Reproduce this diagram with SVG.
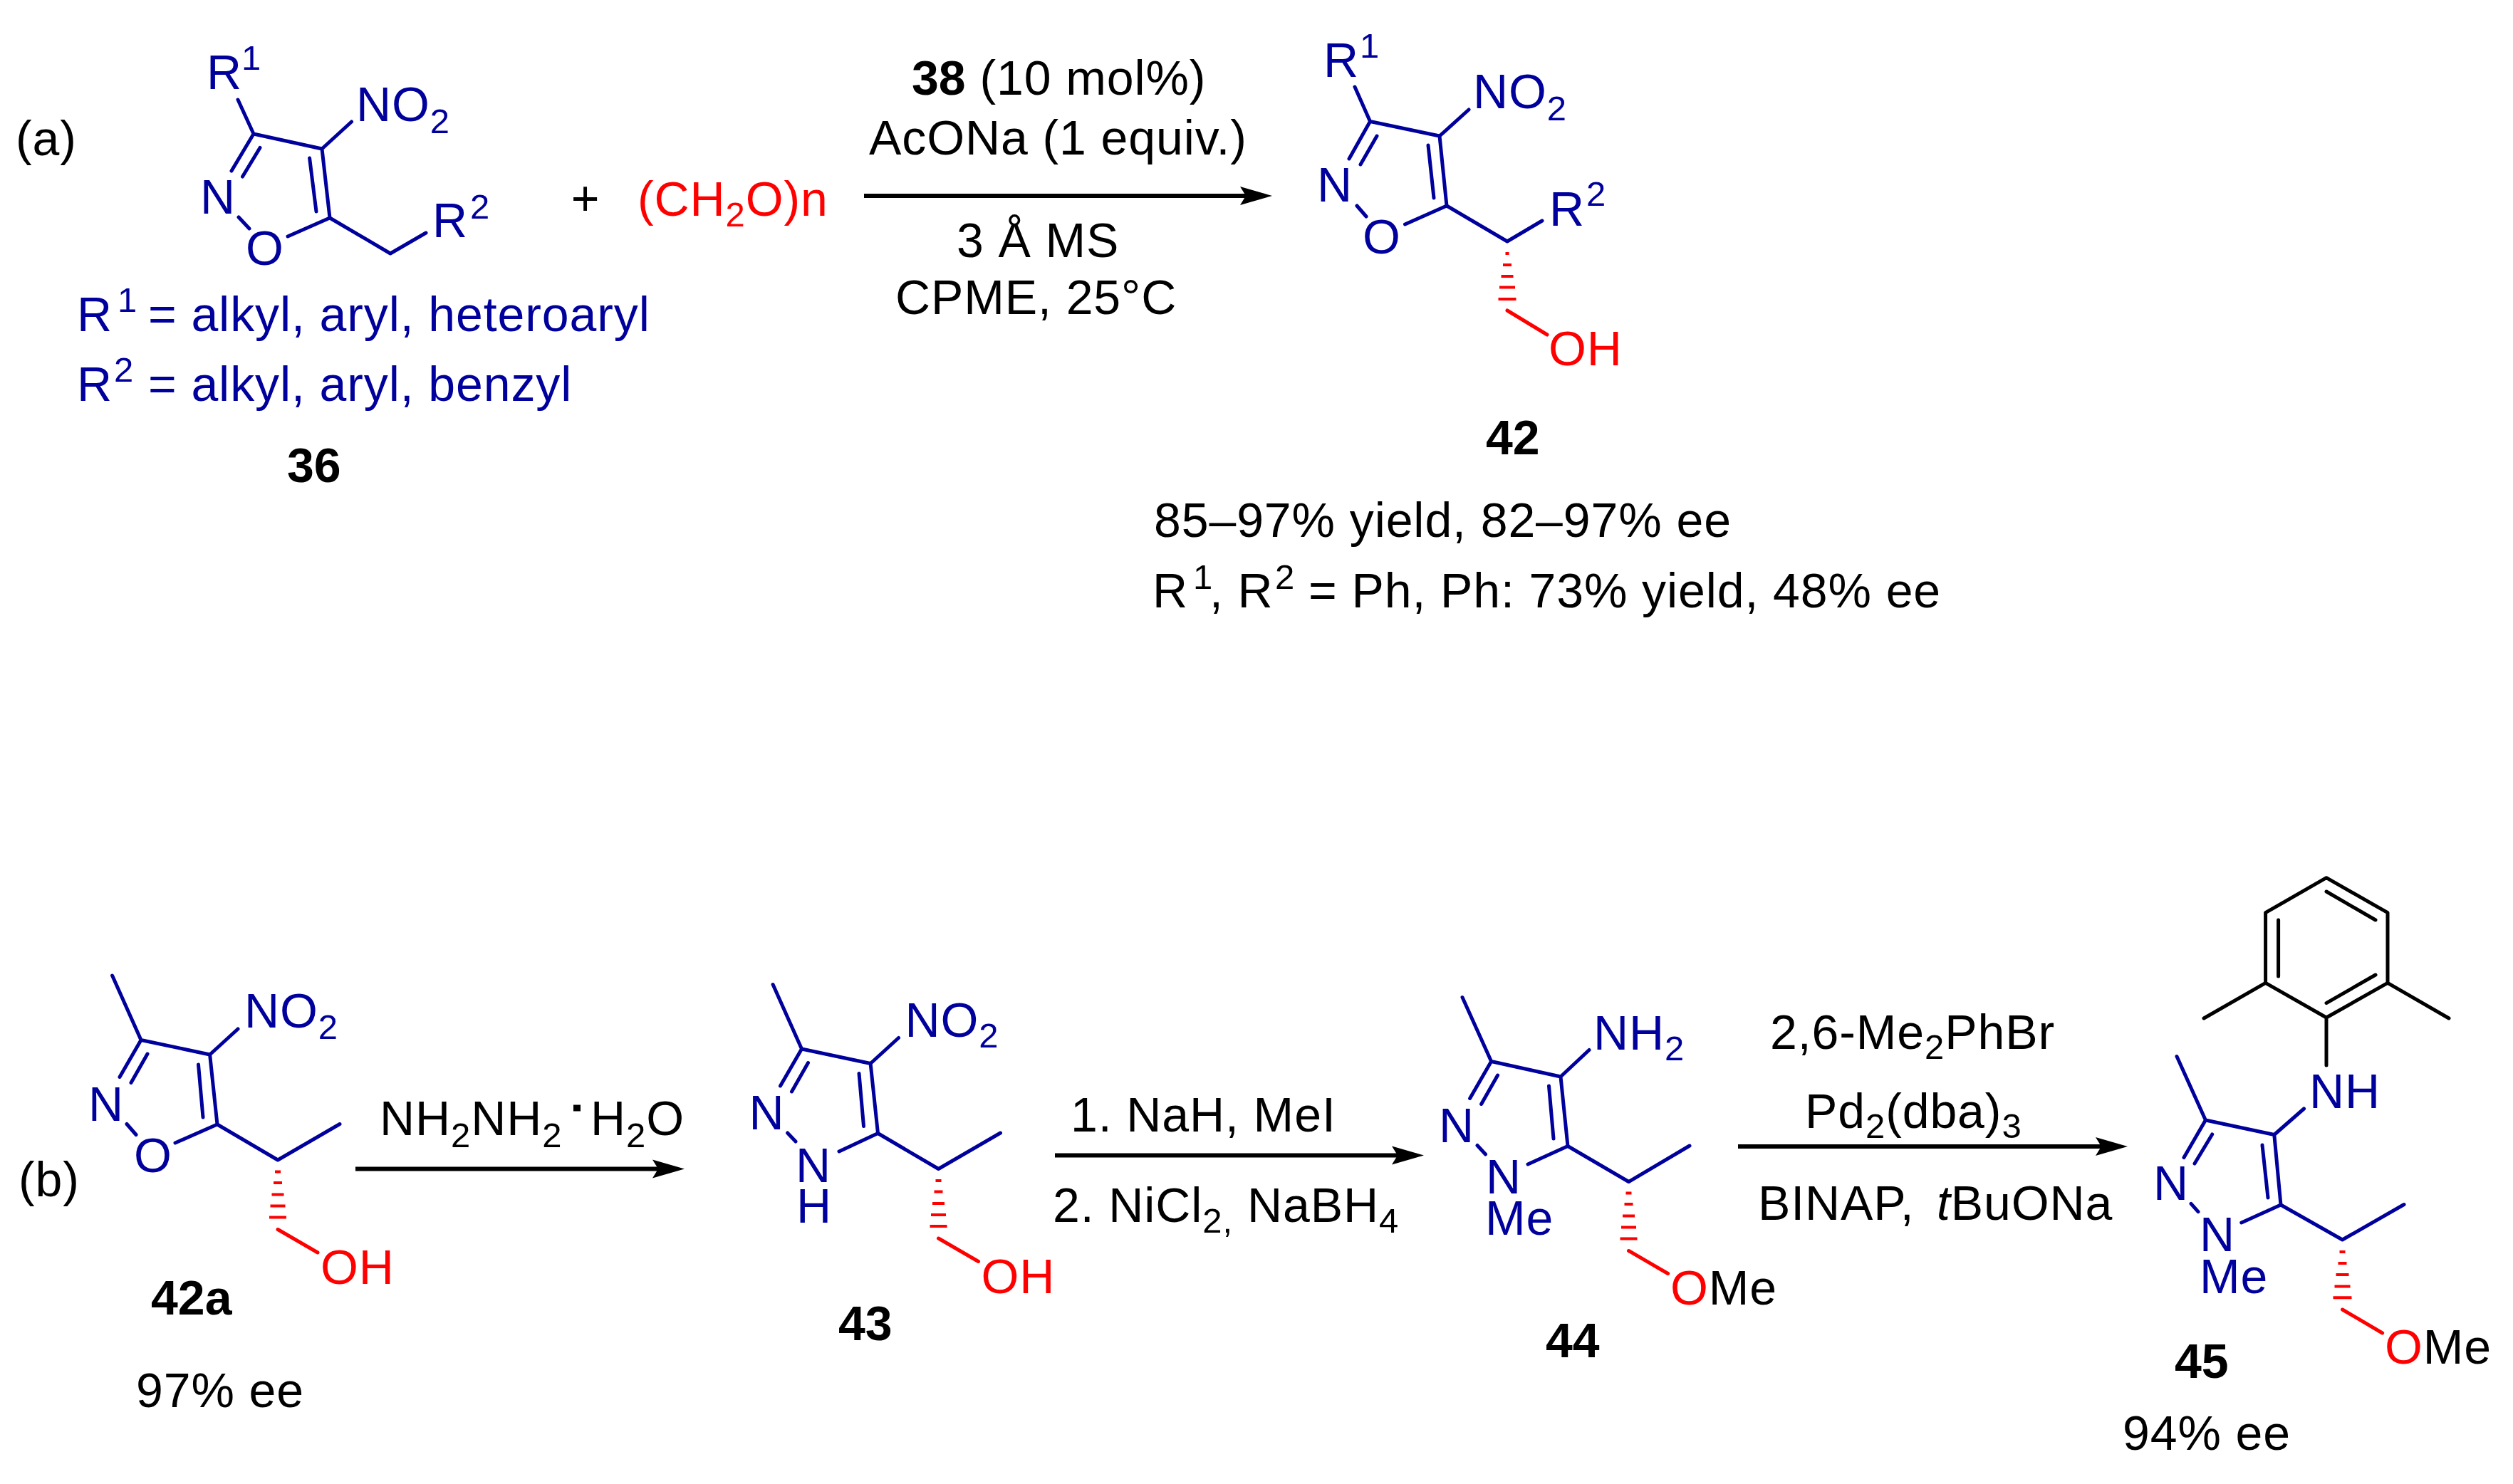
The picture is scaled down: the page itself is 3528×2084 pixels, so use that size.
<svg xmlns="http://www.w3.org/2000/svg" width="3528" height="2084" viewBox="0 0 3528 2084">
<defs>
<style>
text{font-family:"Liberation Sans",Arial,sans-serif;font-size:68px;letter-spacing:.9px;fill:#000;transform:translateY(2px)}
.bl{fill:#00009c}
.rd{fill:#f00}
.k{fill:#000}
.bd{font-weight:700;letter-spacing:0}
.s{font-size:49px}
.it{font-style:italic}
.bb,.kb,.rb,.hb{fill:none;stroke-width:5;stroke-linecap:round;stroke-linejoin:round}
.bb{stroke:#00009c}
.kb{stroke:#000}
.rb{stroke:#f00}
.hb{stroke:#f00;stroke-width:4;stroke-linecap:butt}
.arrow{stroke:#000;stroke-width:6;fill:none;marker-end:url(#head)}
</style>
<marker id="head" markerUnits="userSpaceOnUse" markerWidth="48" markerHeight="30" refX="24" refY="15" orient="auto">
<path d="M2 2L47 15L2 28L10 15Z" fill="#000"/>
</marker>
</defs>
<rect width="3528" height="2084" fill="#fff"/>

<g id="connectors">
<line class="arrow" x1="1213" y1="275" x2="1763" y2="275"/>
<line class="arrow" x1="499" y1="1641.5" x2="938" y2="1641.5"/>
<line class="arrow" x1="1481" y1="1622.5" x2="1976" y2="1622.5"/>
<line class="arrow" x1="2440" y1="1610" x2="2964" y2="1610"/>
</g>

<g id="label-a"><text x="22" y="216">(a)</text></g>
<g id="label-b"><text x="26" y="1678">(b)</text></g>

<g id="mol36">
<path class="bb" d="M334 140L356 188L452 209L463 306L404 332M356 188L325 240M365 207.500L340.500 248M434.600 222L444 297M335 305L350 321M452 209L493.500 171M463 306L548 356L598 327"/>
<text class="bl" x="290" y="123">R<tspan class="s" x="339" y="96">1</tspan></text>
<text class="bl" x="500" y="168">NO<tspan class="s" y="185">2</tspan></text>
<text class="bl" x="281" y="298">N</text>
<text class="bl" x="345" y="370">O</text>
<text class="bl" x="607" y="331">R<tspan class="s" x="660" y="305">2</tspan></text>
<text class="bl" x="108" y="463">R<tspan class="s" x="165" y="436">1</tspan><tspan x="208" y="463">= alkyl, aryl, heteroaryl</tspan></text>
<text class="bl" x="108" y="561">R<tspan class="s" x="160" y="534">2</tspan><tspan x="208" y="561">= alkyl, aryl, benzyl</tspan></text>
<text class="bd" x="403" y="675">36</text>
</g>

<g id="plus"><text x="822" y="300" text-anchor="middle">+</text></g>
<g id="reagent-ch2o"><text class="rd" x="895" y="301">(CH<tspan class="s" y="316">2</tspan><tspan y="301">O)n</tspan></text></g>

<g id="conditions-a">
<text x="1280" y="131"><tspan class="bd">38</tspan> (10 mol%)</text>
<text x="1220" y="215">AcONa (1 equiv.)</text>
<text x="1343" y="359">3 Å MS</text>
<text x="1257" y="439">CPME, 25°C</text>
</g>

<g id="mol42">
<path class="bb" d="M1902 122L1923.500 170.500L2021 191L2031 289L1972.500 315M1923.500 170.500L1894 223M1933 191L1910 231M2005 204L2013 278M1905 289L1918 304M2021 191L2062 154M2031 289L2116 339L2165 310"/>
<path class="hb" d="M2113.500 356h5M2110 372h12M2107.500 388h17M2105 403.500h22M2103.500 420h25"/>
<path class="rb" d="M2116 436L2172 470"/>
<text class="bl" x="1858" y="106">R<tspan class="s" x="1909" y="79">1</tspan></text>
<text class="bl" x="2068" y="150">NO<tspan class="s" y="166.500">2</tspan></text>
<text class="bl" x="1849" y="281">N</text>
<text class="bl" x="1913" y="354">O</text>
<text class="bl" x="2175" y="314.500">R<tspan class="s" x="2227" y="287">2</tspan></text>
<text class="rd" x="2174" y="511">OH</text>
<text class="bd" x="2086" y="636">42</text>
<text x="1620" y="752">85–97% yield, 82–97% ee</text>
<text x="1618" y="851">R<tspan class="s" x="1675" y="825">1</tspan><tspan x="1698" y="851">, R</tspan><tspan class="s" x="1790" y="825">2</tspan><tspan x="1837" y="851">= Ph, Ph: 73% yield, 48% ee</tspan></text>
</g>

<g id="mol42a">
<path class="bb" d="M157.600 1370L198 1460.500L294.600 1481L305 1579L246 1605M198 1460.500L168 1512.500M207 1480L184 1520.500M278.500 1495L285 1569M178 1578.500L191 1593.500M294.600 1481L334 1445M305 1579L390 1629L477 1578.500"/>
<path class="hb" d="M386 1645.500h8M384 1661h12M381.500 1677.500h17M379.500 1693.500h21M378 1709.500h24"/>
<path class="rb" d="M390 1726.500L446 1759"/>
<text class="bl" x="343" y="1441">NO<tspan class="s" y="1456.500">2</tspan></text>
<text class="bl" x="124" y="1571.500">N</text>
<text class="bl" x="188" y="1644">O</text>
<text class="rd" x="450" y="1801">OH</text>
<text class="bd" x="212" y="1844">42a</text>
<text x="191" y="1973.500">97% ee</text>
</g>

<g id="reagent-hydrazine">
<text x="533" y="1592">NH<tspan class="s" y="1608.500">2</tspan><tspan y="1592">NH</tspan><tspan class="s" y="1608.500">2</tspan><tspan x="829" y="1592">H</tspan><tspan class="s" y="1608.500">2</tspan><tspan y="1592">O</tspan></text>
<rect x="805" y="1551.500" width="10" height="9" fill="#000"/>
</g>

<g id="mol43">
<path class="bb" d="M1085.100 1382.500L1125.500 1473L1222.100 1493.500L1232.500 1591.500L1178 1617M1125.500 1473L1095.500 1525M1134.500 1492.500L1111.500 1533M1206 1507.500L1212.500 1581.500M1105.600 1591L1117 1603M1222.100 1493.500L1261.500 1457.500M1232.500 1591.500L1317.500 1641.500L1404.500 1591"/>
<path class="hb" d="M1313.500 1658h8M1311.500 1673.500h12M1309 1690h17M1307 1706h21M1305.500 1722h24"/>
<path class="rb" d="M1317.500 1739L1373.500 1771.500"/>
<text class="bl" x="1270.500" y="1453.500">NO<tspan class="s" y="1469">2</tspan></text>
<text class="bl" x="1051.500" y="1584">N</text>
<text class="bl" x="1117" y="1657.500">N<tspan x="1118" y="1715">H</tspan></text>
<text class="rd" x="1377.500" y="1813.500">OH</text>
<text class="bd" x="1177" y="1880">43</text>
</g>

<g id="conditions-44">
<text x="1503" y="1586.500">1. NaH, MeI</text>
<text x="1478" y="1713.500">2. NiCl<tspan class="s" y="1729">2,</tspan><tspan x="1751" y="1713.500">NaBH</tspan><tspan class="s" y="1729">4</tspan></text>
</g>

<g id="mol44">
<path class="bb" d="M2053 1400.500L2093.600 1490.500L2191 1512L2201 1609.500L2145 1635M2093.600 1490.500L2063.600 1542.500M2102.600 1510L2079.600 1550.500M2174.500 1525L2181 1599M2074 1608.500L2085.500 1621M2191 1512L2231 1474.500M2201 1609.500L2286.500 1659.500L2372 1609"/>
<path class="hb" d="M2282.500 1675.500h8M2280.500 1691h12M2278 1707.500h17M2276 1723.500h21M2274.500 1739.500h24"/>
<path class="rb" d="M2286.500 1756.500L2341.600 1788.500"/>
<text class="bl" x="2237" y="1472">NH<tspan class="s" y="1487">2</tspan></text>
<text class="bl" x="2020" y="1601.500">N</text>
<text class="bl" x="2086" y="1674">N<tspan x="2085" y="1732">Me</tspan></text>
<text x="2345" y="1830"><tspan class="rd">O</tspan>Me</text>
<text class="bd" x="2170" y="1903.500">44</text>
</g>

<g id="conditions-45">
<text x="2485" y="1470.500">2,6-Me<tspan class="s" y="1484.700">2</tspan><tspan y="1470.500">PhBr</tspan></text>
<text x="2534" y="1581.500">Pd<tspan class="s" y="1596">2</tspan><tspan y="1581.500">(dba)</tspan><tspan class="s" y="1596">3</tspan></text>
<text x="2468" y="1711">BINAP, <tspan class="it" x="2719">t</tspan>BuONa</text>
</g>

<g id="mol45">
<path class="kb" d="M3266 1232.700L3352 1281.700L3352 1380.400L3266 1429L3180.600 1380.400L3180.600 1281.700ZM3266 1252L3335 1292M3335 1369L3266 1408.600M3198.600 1292L3198.600 1371M3180.600 1380.400L3094 1430M3352 1380.400L3438 1430M3266 1429L3266 1496"/>
<path class="bb" d="M3056 1483.500L3096.400 1573L3192.800 1593.500L3202 1692L3146.800 1717M3096.400 1573L3066 1625.600M3105.700 1593L3081 1634M3176 1608L3184 1682M3076 1690.400L3086 1701.700M3192.800 1593.500L3234.500 1557M3202 1692L3288.500 1741L3375 1691.500"/>
<path class="hb" d="M3284.500 1758h8M3282.500 1774h12M3279.500 1790h18M3277.500 1806.500h22M3275.500 1822.300h26"/>
<path class="rb" d="M3288.500 1839L3344.600 1872"/>
<text class="bl" x="3242" y="1553.500">NH</text>
<text class="bl" x="3023" y="1683">N</text>
<text class="bl" x="3088" y="1755">N<tspan x="3088" y="1814">Me</tspan></text>
<text x="3348" y="1913"><tspan class="rd">O</tspan>Me</text>
<text class="bd" x="3053" y="1933">45</text>
<text x="2980" y="2034">94% ee</text>
</g>
</svg>
